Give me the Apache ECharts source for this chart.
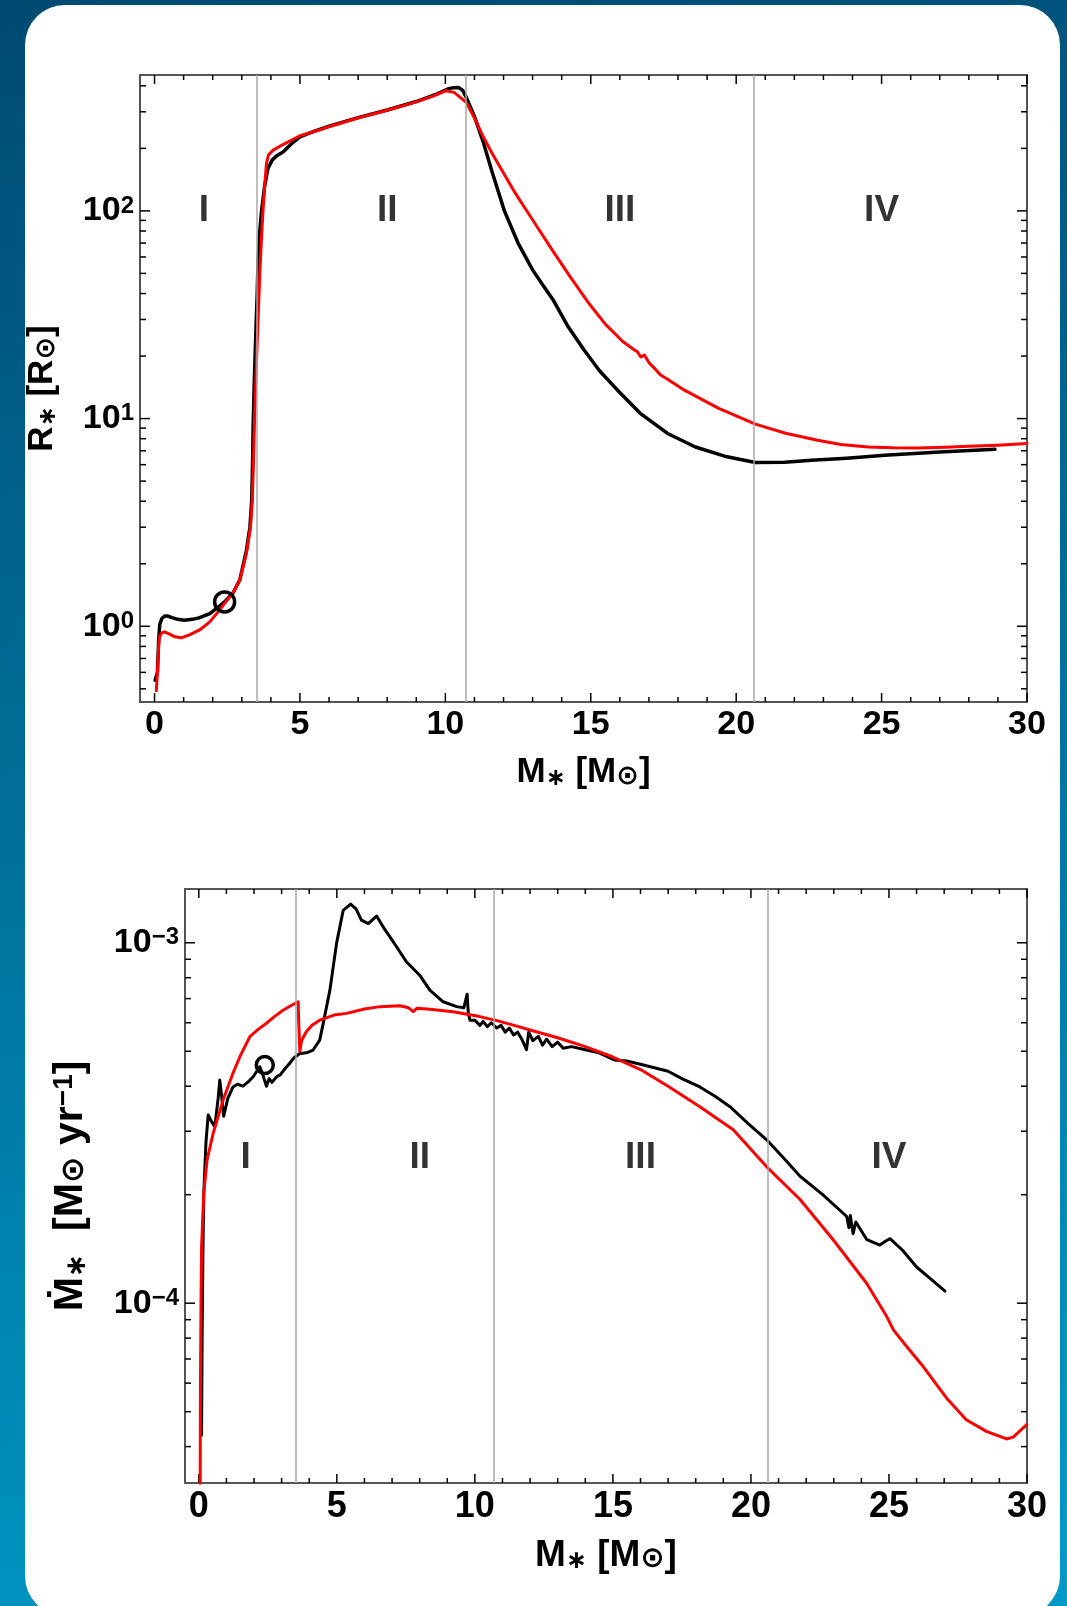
<!DOCTYPE html>
<html><head><meta charset="utf-8">
<script src="https://cdn.jsdelivr.net/npm/echarts@6/dist/echarts.min.js"></script>
<style>
html,body{margin:0;padding:0;width:1067px;height:1606px;overflow:hidden;}
body{position:relative;background:linear-gradient(170deg,#004a72 0%,#006b95 40%,#0087b3 75%,#009ac8 100%);}
#card{position:absolute;left:25px;top:5px;width:1035px;height:1611px;background:#fff;border-radius:40px;}
#chart{position:absolute;left:0;top:0;width:1067px;height:1606px;}
</style></head><body>
<div id="card"></div><div id="chart"></div>
<script>
const FONT = '"Liberation Sans", Arial, Helvetica, "DejaVu Sans", sans-serif';

// ---------- data ----------
// Top panel: stellar radius R* [Rsun] vs stellar mass M* [Msun]
const radiusBlack = [[0.02,0.55],[0.1,0.6],[0.14,0.85],[0.18,1.02],[0.25,1.09],[0.35,1.12],[0.46,1.12],[0.6,1.10],[0.8,1.08],[1.03,1.07],[1.3,1.08],[1.55,1.10],[1.9,1.15],[2.2,1.24],[2.41,1.31],[2.7,1.45],[2.93,1.67],[3.16,2.32],[3.28,3.0],[3.34,4.0],[3.37,6.0],[3.39,9.1],[3.43,15],[3.48,25],[3.53,40],[3.56,58],[3.62,80],[3.68,100],[3.78,130],[3.9,160],[4.05,176],[4.2,184],[4.42,192],[4.7,210],[5.0,227],[5.5,242],[6.0,256],[7.0,281],[8.0,306],[9.0,336],[9.7,365],[10.1,387],[10.3,392],[10.45,393],[10.6,380],[10.72,352],[11.0,285],[11.3,215],[11.6,155],[12.03,100],[12.5,70],[13.0,52],[13.35,44],[13.72,37],[14.2,28],[14.77,21.4],[15.3,17],[15.92,13.7],[16.7,10.6],[17.64,8.48],[18.6,7.3],[19.6,6.59],[20.66,6.14],[21.67,6.17],[22.59,6.30],[23.8,6.45],[25.1,6.66],[27.0,6.90],[28.9,7.12]];
const radiusRed = [[0.06,0.49],[0.1,0.6],[0.14,0.8],[0.17,0.89],[0.25,0.93],[0.34,0.94],[0.5,0.92],[0.7,0.89],[0.92,0.88],[1.2,0.91],[1.55,0.96],[1.9,1.05],[2.2,1.18],[2.41,1.29],[2.7,1.45],[2.93,1.67],[3.16,2.24],[3.3,3.0],[3.36,4.0],[3.4,6.0],[3.44,10],[3.5,18],[3.56,30],[3.62,50],[3.68,75],[3.73,100],[3.8,140],[3.85,170],[3.92,186],[4.08,196],[4.4,208],[5.0,230],[5.5,241],[6.0,254],[7.0,280],[8.0,305],[9.0,335],[9.6,358],[10.02,379],[10.3,372],[10.72,333],[11.0,280],[11.3,228],[11.6,190],[12.0,152],[12.4,122],[12.74,103],[13.2,82],[13.7,64],[14.3,48],[14.96,35.5],[15.5,28.5],[16.1,23.5],[16.5,21.4],[16.6,21.0],[16.72,19.8],[16.85,20.2],[17.0,18.6],[17.2,17.4],[17.4,16.2],[17.6,15.6],[18.22,13.7],[19.4,11.2],[20.66,9.4],[21.7,8.5],[22.8,7.87],[23.6,7.5],[24.54,7.3],[25.4,7.23],[26.27,7.22],[27.2,7.28],[27.99,7.36],[29.0,7.45],[30.0,7.59]];
const radiusMarker = [[2.41,1.31]];

// Bottom panel: accretion rate dM*/dt [Msun/yr] vs stellar mass M* [Msun]
const rateBlack = [[0.1,4.3e-5],[0.12,8e-5],[0.15,1.4e-4],[0.18,2.02e-4],[0.26,2.8e-4],[0.34,3.33e-4],[0.45,3.2e-4],[0.58,3.09e-4],[0.7,3.7e-4],[0.76,4.16e-4],[0.82,3.8e-4],[0.9,3.3e-4],[1.05,3.7e-4],[1.24,3.98e-4],[1.4,4.05e-4],[1.6,4.0e-4],[1.8,4.12e-4],[1.97,4.25e-4],[2.1,4.4e-4],[2.21,4.53e-4],[2.32,4.3e-4],[2.45,4.0e-4],[2.55,4.2e-4],[2.65,4.1e-4],[2.82,4.25e-4],[2.95,4.3e-4],[3.1,4.45e-4],[3.3,4.64e-4],[3.45,4.8e-4],[3.66,4.93e-4],[3.9,4.95e-4],[4.14,5.04e-4],[4.38,5.37e-4],[4.55,6.2e-4],[4.75,7.4e-4],[4.99,9.96e-4],[5.23,1.23e-3],[5.5,1.28e-3],[5.7,1.24e-3],[5.89,1.156e-3],[6.14,1.13e-3],[6.44,1.186e-3],[6.7,1.1e-3],[7.04,1.007e-3],[7.52,8.86e-4],[8.0,8.13e-4],[8.37,7.39e-4],[8.85,6.86e-4],[9.34,6.65e-4],[9.6,6.6e-4],[9.72,7.2e-4],[9.76,6.4e-4],[9.82,6.1e-4],[10.0,6.1e-4],[10.18,5.9e-4],[10.3,6.05e-4],[10.45,5.85e-4],[10.6,6.0e-4],[10.79,5.8e-4],[10.95,5.9e-4],[11.1,5.65e-4],[11.25,5.8e-4],[11.4,5.55e-4],[11.55,5.65e-4],[11.7,5.4e-4],[11.87,5.05e-4],[11.95,5.65e-4],[12.1,5.35e-4],[12.3,5.5e-4],[12.45,5.2e-4],[12.6,5.4e-4],[12.8,5.15e-4],[13.0,5.3e-4],[13.2,5.1e-4],[13.5,5.15e-4],[14.0,5.05e-4],[14.5,4.95e-4],[15.05,4.73e-4],[15.5,4.7e-4],[16.0,4.6e-4],[16.5,4.5e-4],[17.0,4.4e-4],[17.5,4.2e-4],[18.15,3.98e-4],[18.7,3.75e-4],[19.24,3.51e-4],[19.9,3.15e-4],[20.57,2.84e-4],[21.2,2.52e-4],[21.78,2.25e-4],[22.6,2.0e-4],[23.47,1.74e-4],[23.55,1.62e-4],[23.6,1.75e-4],[23.7,1.56e-4],[23.8,1.68e-4],[24.2,1.5e-4],[24.67,1.45e-4],[24.9,1.49e-4],[25.04,1.51e-4],[25.5,1.4e-4],[26.0,1.26e-4],[26.5,1.17e-4],[27.03,1.08e-4]];
const rateRed = [[0.05,3.0e-5],[0.06,6e-5],[0.08,1.0e-4],[0.1,1.43e-4],[0.18,2.02e-4],[0.3,2.5e-4],[0.52,2.96e-4],[0.88,3.66e-4],[1.24,4.35e-4],[1.5,4.85e-4],[1.85,5.49e-4],[2.15,5.75e-4],[2.45,5.98e-4],[2.75,6.25e-4],[3.05,6.5e-4],[3.35,6.7e-4],[3.6,6.86e-4],[3.62,6.0e-4],[3.66,4.99e-4],[3.72,5.35e-4],[3.9,5.67e-4],[4.1,5.9e-4],[4.38,6.1e-4],[4.9,6.3e-4],[5.35,6.37e-4],[6.0,6.55e-4],[6.56,6.65e-4],[7.28,6.69e-4],[7.6,6.6e-4],[7.77,6.44e-4],[7.9,6.58e-4],[8.37,6.54e-4],[9.21,6.44e-4],[10.18,6.24e-4],[10.8,6.08e-4],[11.39,5.91e-4],[12.0,5.73e-4],[13.0,5.45e-4],[14.0,5.15e-4],[15.0,4.82e-4],[16.0,4.45e-4],[17.0,4.0e-4],[18.15,3.51e-4],[19.36,3.03e-4],[20.57,2.39e-4],[21.78,1.94e-4],[22.98,1.5e-4],[24.19,1.136e-4],[24.92,9.18e-5],[25.16,8.43e-5],[25.64,7.58e-5],[26.24,6.67e-5],[27.09,5.45e-5],[27.8,4.75e-5],[28.53,4.41e-5],[29.26,4.2e-5],[29.5,4.25e-5],[29.99,4.6e-5]];
const rateMarker = [[2.39,4.58e-4]];

// Phase boundaries and labels
const phaseBoundaries = [3.5, 10.7, 20.6];
const phaseNames = ['I','II','III','IV'];
const phaseLabelX = [1.7, 8.0, 16.0, 25.0];
const phaseLabelYTop = 100;
const phaseLabelYBottom = 2.53e-4;

// Axes and tick labels
const xRange = [-0.5, 30];
const xTickValues = [0,5,10,15,20,25,30];
const xMinorTicks = [1,2,3,4,6,7,8,9,11,12,13,14,16,17,18,19,21,22,23,24,26,27,28,29];
const topYRange = [0.432, 451];
const topYTickValues = [1,10,100];
const topYTickExps = ['0','1','2'];
const topYMinorTicks = [0.5,0.6,0.7,0.8,0.9,2,3,4,5,6,7,8,9,20,30,40,50,60,70,80,90,200,300,400];
const bottomYRange = [3.17e-5, 1.41e-3];
const bottomYTickValues = [1e-4,1e-3];
const bottomYTickExps = ['\u22124','\u22123'];
const bottomYMinorTicks = [4e-5,5e-5,6e-5,7e-5,8e-5,9e-5,2e-4,3e-4,4e-4,5e-4,6e-4,7e-4,8e-4,9e-4];

// ---------- chart ----------
const chart = echarts.init(document.getElementById('chart'), null, {renderer:'canvas'});

function tickSeries(gi, yMaj, yMin, yRef) {
  const data = [];
  xTickValues.forEach(v => data.push([v, yRef, 0]));
  xMinorTicks.forEach(v => data.push([v, yRef, 1]));
  yMaj.forEach(v => data.push([0, v, 2]));
  yMin.forEach(v => data.push([0, v, 3]));
  return {
    type:'custom', xAxisIndex: gi*2, yAxisIndex: gi*2, silent:true, clip:false, z:1,
    data,
    renderItem(params, api) {
      const cs = params.coordSys;
      const kind = api.value(2);
      const p = api.coord([api.value(0), api.value(1)]);
      const style = {stroke:'#000', lineWidth:1.5};
      if (kind < 2) {
        const len = kind === 0 ? 9 : 5;
        const x = p[0];
        return {type:'group', children:[
          {type:'line', shape:{x1:x,y1:cs.y+cs.height,x2:x,y2:cs.y+cs.height-len}, style},
          {type:'line', shape:{x1:x,y1:cs.y,x2:x,y2:cs.y+len}, style}
        ]};
      }
      const len = kind === 2 ? 10 : 6;
      const y = p[1];
      return {type:'group', children:[
        {type:'line', shape:{x1:cs.x,y1:y,x2:cs.x+len,y2:y}, style},
        {type:'line', shape:{x1:cs.x+cs.width,y1:y,x2:cs.x+cs.width-len,y2:y}, style}
      ]};
    },
    markLine: {
      silent:true, symbol:['none','none'], label:{show:false},
      lineStyle:{color:'#a8a8a8', width:1.5, type:'solid'},
      data: phaseBoundaries.map(v => ({xAxis:v}))
    }
  };
}

const axisLineStyle = {show:true, onZero:false, lineStyle:{color:'#555', width:2}};
function richSet(size) {
  const s = Math.round(size * 0.68);
  return {
    sub:{fontSize:s, fontWeight:'bold', fontFamily:FONT, color:'#000', verticalAlign:'bottom', lineHeight:s, padding:[Math.round(size*0.62),0,0,0]},
    sun:{fontSize:Math.round(size*0.78), fontWeight:'bold', fontFamily:'"DejaVu Sans", sans-serif', color:'#000', verticalAlign:'bottom', lineHeight:Math.round(size*0.78), padding:[Math.round(size*0.5),0,0,0]},
    sup:{fontSize:s, fontWeight:'bold', fontFamily:FONT, color:'#000', verticalAlign:'top', lineHeight:s, padding:[0,0,Math.round(size*0.62),0]}
  };
}

function xAxes(gi, labelSize, nameSize, nameGap) {
  const common = {type:'value', gridIndex:gi, min:xRange[0], max:xRange[1], splitNumber:6,
    splitLine:{show:false}, axisTick:{show:false}, axisLine:axisLineStyle};
  return [
    Object.assign({}, common, {
      position:'bottom',
      name:'M{sub|\u2217} [M{sun|\u2299}]', nameLocation:'middle', nameGap,
      nameTextStyle:{fontSize:nameSize, fontWeight:'bold', fontFamily:FONT, color:'#000', rich:richSet(nameSize)},
      axisLabel:{show:true, margin:6, fontSize:labelSize, fontWeight:'bold', fontFamily:FONT, color:'#000',
        formatter: v => xTickValues.indexOf(v) >= 0 ? String(v) : ''}
    }),
    Object.assign({}, common, {position:'top', axisLabel:{show:false}})
  ];
}

function yAxes(gi, range, vals, exps, name, nameGap, nameSize, labelSize) {
  const common = {type:'log', logBase:10, gridIndex:gi, min:range[0], max:range[1],
    splitLine:{show:false}, axisTick:{show:false}, axisLine:axisLineStyle};
  return [
    Object.assign({}, common, {
      position:'left', name, nameLocation:'middle', nameGap,
      nameTextStyle:{fontSize:nameSize, fontWeight:'bold', fontFamily:FONT, color:'#000', rich:richSet(nameSize)},
      axisLabel:{show:true, margin:6, align:'right', fontSize:labelSize, fontWeight:'bold', fontFamily:FONT, color:'#000',
        rich:{sup:{fontSize:Math.round(labelSize*0.72), fontWeight:'bold', fontFamily:FONT, color:'#000', verticalAlign:'top', lineHeight:Math.round(labelSize*0.72)}},
        formatter: function(v) {
          const i = vals.findIndex(t => Math.abs(Math.log10(v) - Math.log10(t)) < 1e-6);
          return i < 0 ? '' : '10{sup|' + exps[i] + '}';
        }}
    }),
    Object.assign({}, common, {position:'right', axisLabel:{show:false}})
  ];
}

function lineSeries(gi, data, color, width, z) {
  return {type:'line', xAxisIndex:gi*2, yAxisIndex:gi*2, data, showSymbol:false, symbol:'none',
    lineStyle:{color, width, join:'round', cap:'round'}, z, silent:true, clip:true};
}
function markerSeries(gi, data, size) {
  return {type:'scatter', xAxisIndex:gi*2, yAxisIndex:gi*2, data, symbol:'circle', symbolSize:size,
    itemStyle:{color:'rgba(0,0,0,0)', borderColor:'#000', borderWidth:3.5, opacity:1}, z:6, silent:true};
}
function phaseSeries(gi, yVal) {
  return {type:'scatter', xAxisIndex:gi*2, yAxisIndex:gi*2, symbolSize:0, silent:true, z:7,
    data: phaseLabelX.map(x => [x, yVal]),
    label:{show:true, position:'inside', formatter: p => phaseNames[p.dataIndex],
      fontSize:37, fontWeight:'bold', fontFamily:FONT, color:'#000'}};
}

const option = {
  animation:false,
  backgroundColor:'transparent',
  grid:[
    {left:140, top:75, width:887, height:627},
    {left:185, top:889, width:842, height:594}
  ],
  xAxis: xAxes(0, 34, 35, 53).concat(xAxes(1, 36, 37, 46)),
  yAxis: yAxes(0, topYRange, topYTickValues, topYTickExps, 'R{sub|\u2217} [R{sun|\u2299}]', 80, 35, 34)
    .concat(yAxes(1, bottomYRange, bottomYTickValues, bottomYTickExps, '\u1E40{sub|\u2217}  [M{sun|\u2299} yr{sup|\u22121}]', 88, 41, 34)),
  series:[
    tickSeries(0, topYTickValues, topYMinorTicks, 1),
    lineSeries(0, radiusBlack, '#000', 3.5, 3),
    lineSeries(0, radiusRed, '#ff0000', 3, 4),
    markerSeries(0, radiusMarker, 20),
    phaseSeries(0, phaseLabelYTop),
    tickSeries(1, bottomYTickValues, bottomYMinorTicks, 1e-4),
    lineSeries(1, rateBlack, '#000', 3, 3),
    lineSeries(1, rateRed, '#ff0000', 3, 4),
    markerSeries(1, rateMarker, 17),
    phaseSeries(1, phaseLabelYBottom)
  ]
};
chart.setOption(option);
</script>
</body></html>
